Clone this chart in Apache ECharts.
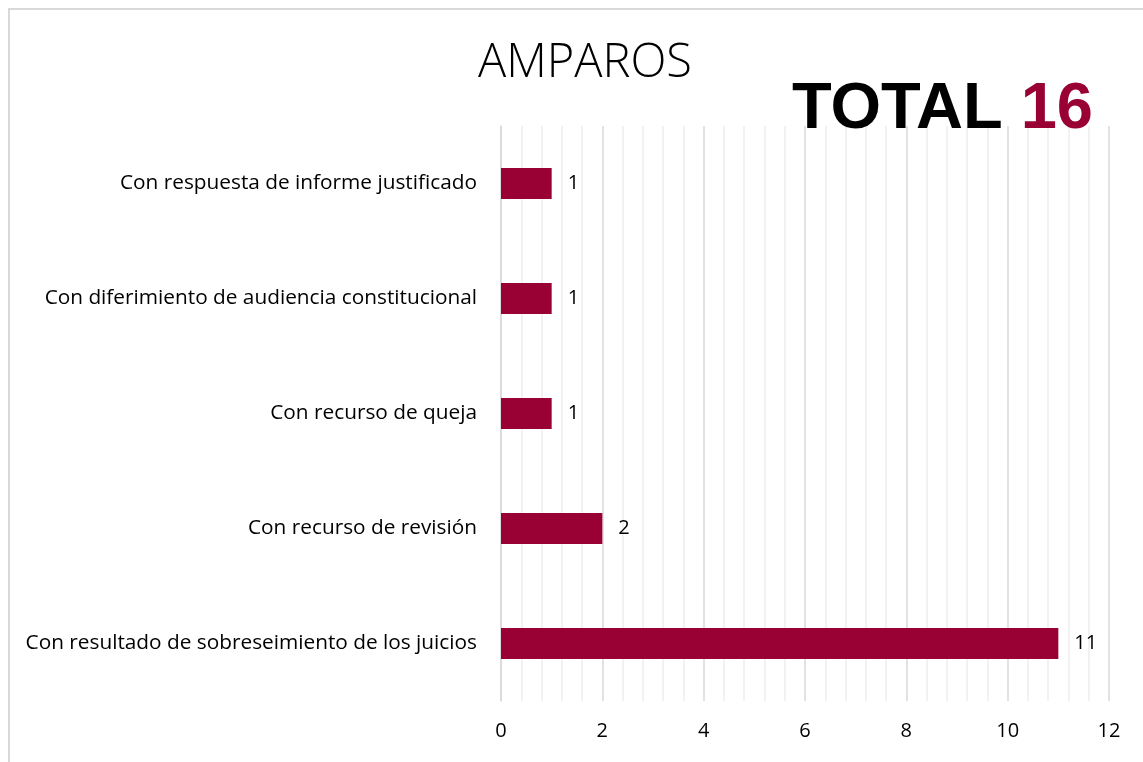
<!DOCTYPE html>
<html>
<head>
    <meta charset="UTF-8">
    <title>AMPAROS</title>
    <script src="https://cdn.jsdelivr.net/npm/echarts@6/dist/echarts.min.js"></script>
    <style>
        html, body { margin: 0; padding: 0; background: #fff; }
        #frame { position: absolute; left: 8px; top: 8px; width: 1135px; height: 754px;
                 border-top: 2px solid #d9d9d9; border-left: 2px solid #d9d9d9; box-sizing: border-box; }
        #chart { position: absolute; left: 0; top: 0; width: 1143px; height: 762px; }
    </style>
</head>
<body>
    <div id="frame"></div>
    <div id="chart"></div>
    <script>
        const categories = [
            'Con resultado de sobreseimiento de los juicios',
            'Con recurso de revisión',
            'Con recurso de queja',
            'Con diferimiento de audiencia constitucional',
            'Con respuesta de informe justificado'
        ];
        const values = [11, 2, 1, 1, 1];
        const totalLabel = 'TOTAL';
        const totalValue = 16;

        const chart = echarts.init(document.getElementById('chart'));
        const font = 'Open Sans, Noto Sans, sans-serif';

        chart.setOption({
            backgroundColor: 'transparent',
            animation: false,
            title: [{
                text: 'AMPAROS',
                left: 580,
                top: 35,
                textAlign: 'center',
                textStyle: { fontFamily: font, fontWeight: 300, fontSize: 47, color: '#000' }
            }, {
                text: '{a|' + totalLabel + ' }{b|' + totalValue + '}',
                right: 45,
                top: 73,
                textStyle: {
                    rich: {
                        a: { fontFamily: 'Liberation Sans, Arial, sans-serif', fontWeight: 'bold', fontSize: 65, color: '#000' },
                        b: { fontFamily: 'Liberation Sans, Arial, sans-serif', fontWeight: 'bold', fontSize: 65, color: '#990033' }
                    }
                }
            }],
            grid: { left: 501, right: 34, top: 126, bottom: 61, containLabel: false },
            xAxis: {
                type: 'value',
                min: 0,
                max: 12,
                interval: 2,
                axisLine: { show: false },
                axisTick: { show: false },
                axisLabel: { fontFamily: font, fontSize: 20, color: '#000', margin: 20 },
                splitLine: { lineStyle: { color: '#d9d9d9', width: 1.5 } },
                minorTick: { show: false, splitNumber: 5 },
                minorSplitLine: { show: true, lineStyle: { color: '#eeeeee', width: 1.5 } }
            },
            yAxis: {
                type: 'category',
                data: categories,
                axisLine: { lineStyle: { color: '#d9d9d9', width: 1.5 } },
                axisTick: { length: 8, lineStyle: { color: '#d0d0d0', width: 1.5 } },
                axisLabel: { fontFamily: font, fontSize: 20.8, color: '#000', margin: 24 }
            },
            series: [{
                type: 'bar',
                data: values,
                barWidth: 31,
                itemStyle: { color: '#990033' },
                label: {
                    show: true,
                    position: 'right',
                    distance: 16,
                    fontFamily: font,
                    fontSize: 20,
                    color: '#000'
                }
            }]
        });
    </script>
</body>
</html>
